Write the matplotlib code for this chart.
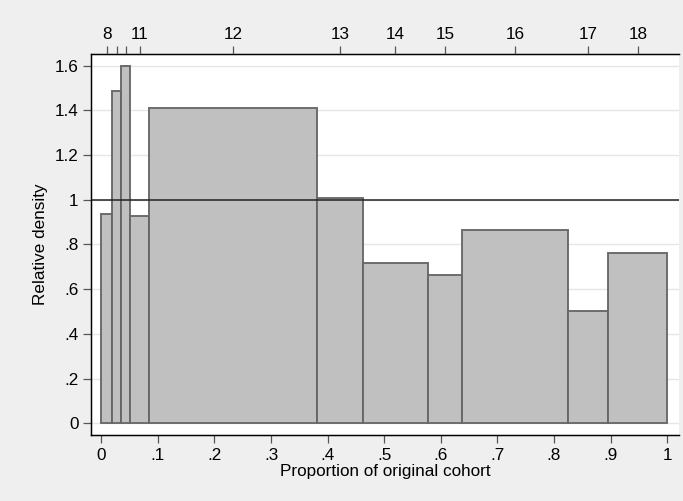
import numpy as np
import matplotlib.pyplot as plt

plt.rcParams['font.family'] = ['Liberation Sans', 'DejaVu Sans']

# bordes de las barras (proporcion acumulada de la cohorte original)
bordes = [0.0, 0.0194, 0.0353, 0.0507, 0.0848, 0.3816, 0.462, 0.577, 0.638, 0.824, 0.896, 1.0]
densidad = [0.936, 1.486, 1.597, 0.928, 1.411, 1.008, 0.717, 0.664, 0.865, 0.503, 0.762]
categorias = ['8', '', '', '11', '12', '13', '14', '15', '16', '17', '18']

y_ticks = [0, 0.2, 0.4, 0.6, 0.8, 1.0, 1.2, 1.4, 1.6]
y_labels = ['0', '.2', '.4', '.6', '.8', '1', '1.2', '1.4', '1.6']
x_ticks = [0, 0.1, 0.2, 0.3, 0.4, 0.5, 0.6, 0.7, 0.8, 0.9, 1.0]
x_labels = ['0', '.1', '.2', '.3', '.4', '.5', '.6', '.7', '.8', '.9', '1']

fondo = '#efefef'
fs = 12.3
fig = plt.figure(figsize=(6.83, 5.01), dpi=100, facecolor=fondo)
ax = fig.add_axes([0.1332, 0.1317, 0.8609, 0.7605])

izq = np.array(bordes[:-1])
ancho = np.diff(bordes)
ax.bar(izq, densidad, width=ancho, align='edge', color='#bdbdbd',
       edgecolor='#666666', linewidth=1.4, alpha=0.95, zorder=2)
ax.axhline(1, color='#222222', linewidth=1.1, zorder=3)

ax.set_xlim(-0.0182, 1.0207)
ax.set_ylim(-0.0523, 1.652)
ax.set_yticks(y_ticks)
ax.set_yticklabels(y_labels)
ax.set_xticks(x_ticks)
ax.set_xticklabels(x_labels)
ax.yaxis.grid(True, color='#e6e6e6', linewidth=1.0, zorder=0)
ax.set_axisbelow(True)

ax.tick_params(axis='both', direction='out', length=6, width=0.9,
               color='#555555', labelsize=fs, pad=3)
ax.set_ylabel('Relative density', fontsize=fs, labelpad=5)
ax.set_xlabel('Proportion of original cohort', fontsize=fs, labelpad=1)

for lado in ['left', 'top', 'bottom']:
    ax.spines[lado].set_color('black')
    ax.spines[lado].set_linewidth(1.0)
ax.spines['right'].set_visible(False)

# eje superior en los puntos medios de cada barra
ax2 = ax.twiny()
ax2.set_xlim(ax.get_xlim())
medios = (np.array(bordes[:-1]) + np.array(bordes[1:])) / 2
ax2.set_xticks(medios)
ax2.set_xticklabels(categorias)
ax2.tick_params(axis='x', direction='out', length=6, width=0.9,
                color='#555555', labelsize=fs, pad=3)
ax2.spines['right'].set_visible(False)
ax2.spines['top'].set_color('black')

fig.savefig('out.png', dpi=100, facecolor=fondo)
